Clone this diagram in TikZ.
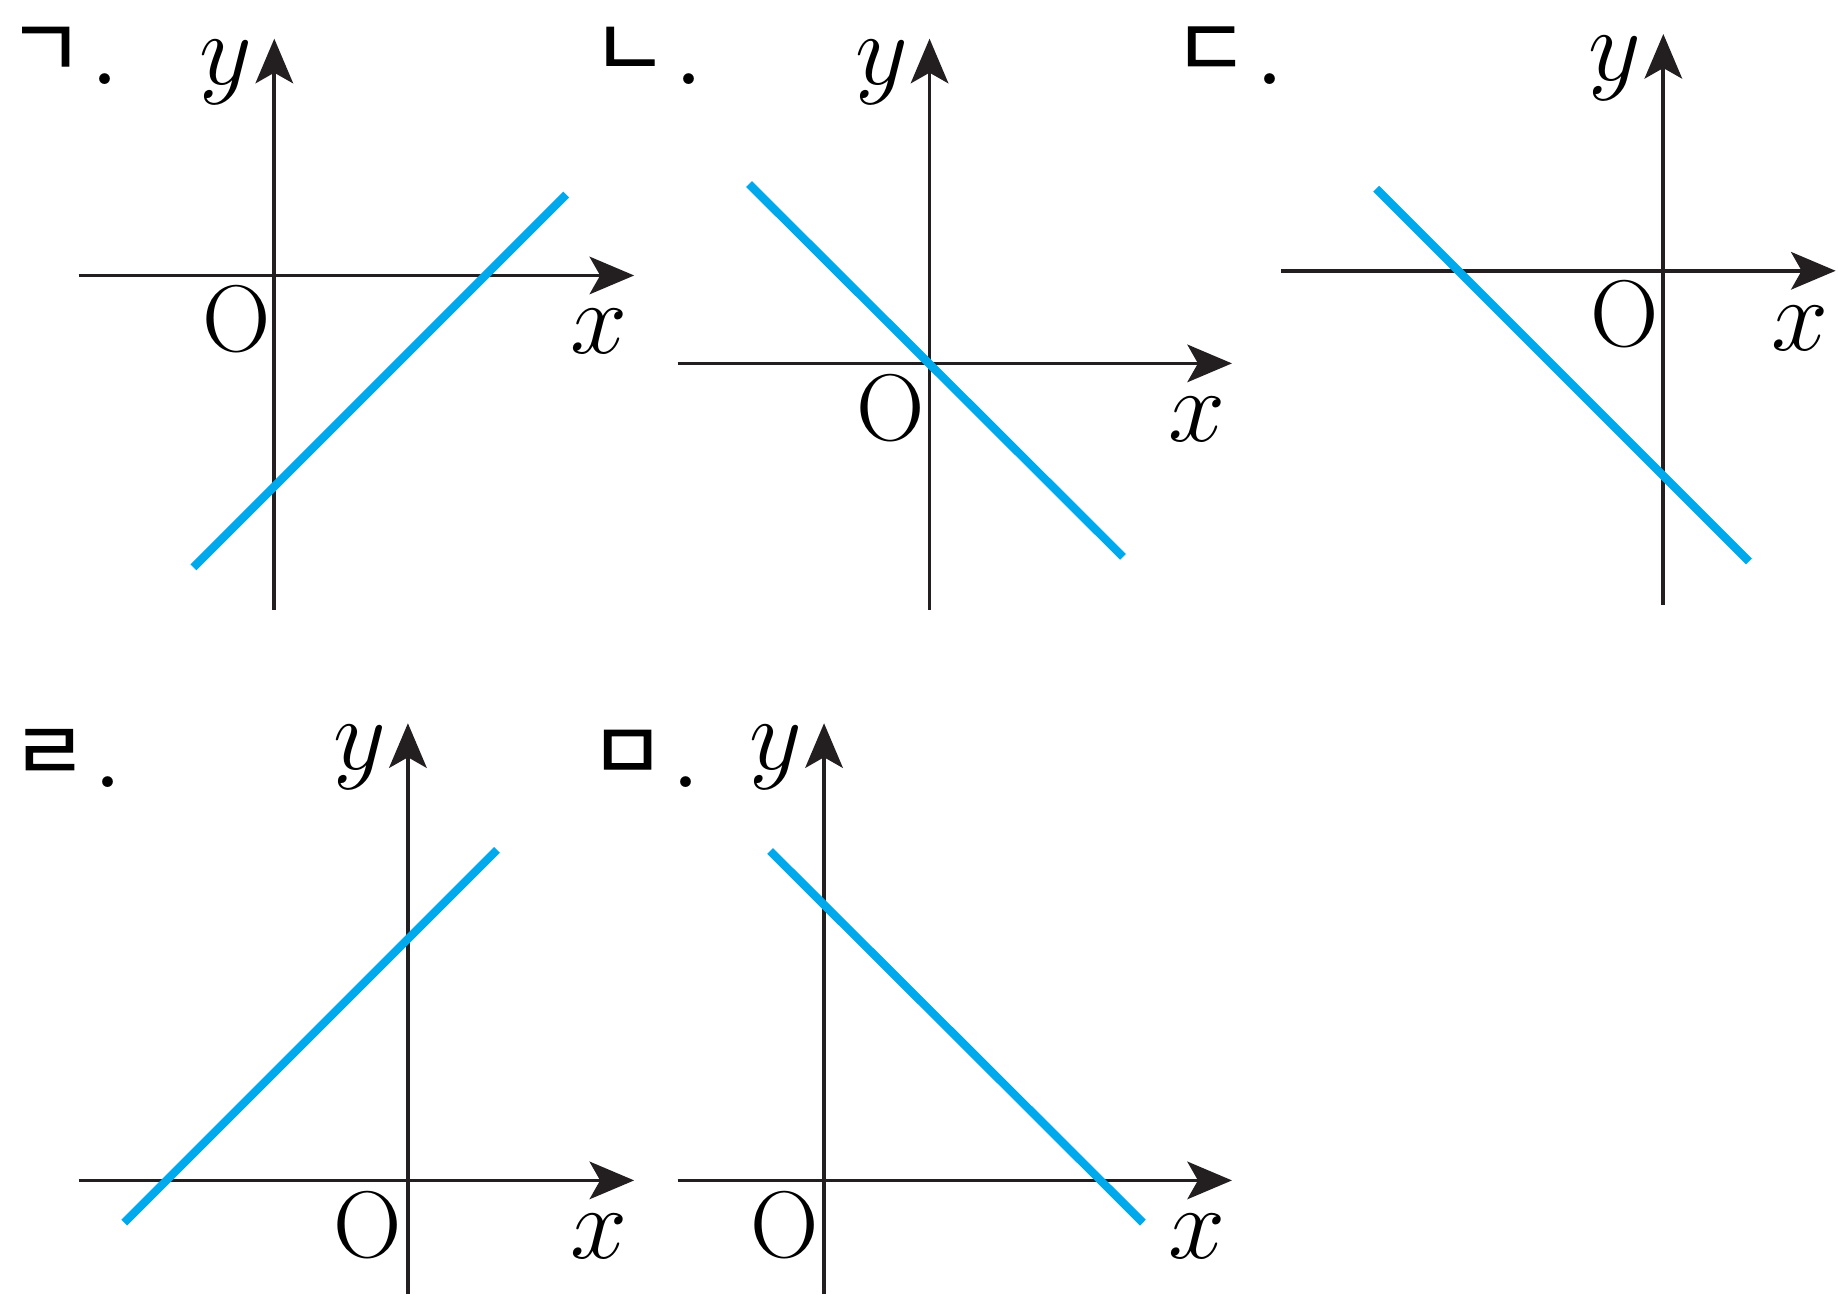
\documentclass[tikz,border=0pt]{standalone}
\usepackage{fontspec}
\usepackage{amsmath}
\usetikzlibrary{arrows.meta}
\newfontfamily\kr[FakeBold=1.2]{Noto Sans CJK KR}
\definecolor{axisgray}{RGB}{35,31,32}
\definecolor{lineblue}{RGB}{0,169,236}
\newcommand{\jamo}[1]{\raisebox{0.06cm}[0.52cm][0pt]{\kr\fontsize{20}{24}\selectfont #1}\kern0.04cm{\fontsize{32}{36}\selectfont.}}

\begin{document}
\begin{tikzpicture}[x=0.01cm,y=-0.01cm,
  axis/.style={line width=0.9pt,draw=axisgray,-{Stealth[length=3.8mm,width=3.2mm,inset=0.9mm]}},
  graph/.style={line width=2pt,draw=lineblue},
  lab/.style={font=\fontsize{23}{27}\selectfont,inner sep=0pt},
  tag/.style={inner sep=0pt,anchor=base west}]
\useasboundingbox (0,0) rectangle (1568,1105);
% panel 1
\node[tag] (tagA) at (6,72) {\jamo{ㄱ}};
\draw [axis] (234,520) -- (234,33);
\draw [axis] (67,235) -- (541,235);
\draw [graph] (165,484) -- (483,166);
\node[lab] (yA) at (193,62) {$y$};
\node[lab] (xA) at (511,283) {$x$};
\node[lab] (oA) at (202,272) {\addfontfeatures{FakeBold=3}O};
% panel 2
\node[tag] (tagB) at (504,72) {\jamo{ㄴ}};
\draw [axis] (793,520) -- (793,33);
\draw [axis] (578,310) -- (1051,310);
\draw [graph] (639,157) -- (958,475);
\node[lab] (yB) at (752,62) {$y$};
\node[lab] (xB) at (1021,358) {$x$};
\node[lab] (oB) at (760,348) {\addfontfeatures{FakeBold=3}O};
% panel 3
\node[tag] (tagC) at (1000,72) {\jamo{ㄷ}};
\draw [axis] (1419,516) -- (1419,29);
\draw [axis] (1093,231) -- (1566,231);
\draw [graph] (1174,161) -- (1492,479);
\node[lab] (yC) at (1378,58) {$y$};
\node[lab] (xC) at (1536,280) {$x$};
\node[lab] (oC) at (1386,268) {\addfontfeatures{FakeBold=3}O};
% panel 4
\node[tag] (tagD) at (9,672) {\jamo{ㄹ}};
\draw [axis] (348,1104) -- (348,617);
\draw [axis] (67,1007) -- (541,1007);
\draw [graph] (106,1043) -- (424,725);
\node[lab] (yD) at (307,646) {$y$};
\node[lab] (xD) at (511,1055) {$x$};
\node[lab] (oD) at (314,1045) {\addfontfeatures{FakeBold=3}O};
% panel 5
\node[tag] (tagE) at (502,672) {\jamo{ㅁ}};
\draw [axis] (703,1104) -- (703,617);
\draw [axis] (578,1007) -- (1051,1007);
\draw [graph] (657,726) -- (975,1043);
\node[lab] (yE) at (662,646) {$y$};
\node[lab] (xE) at (1021,1055) {$x$};
\node[lab] (oE) at (669,1045) {\addfontfeatures{FakeBold=3}O};
\end{tikzpicture}
\end{document}
